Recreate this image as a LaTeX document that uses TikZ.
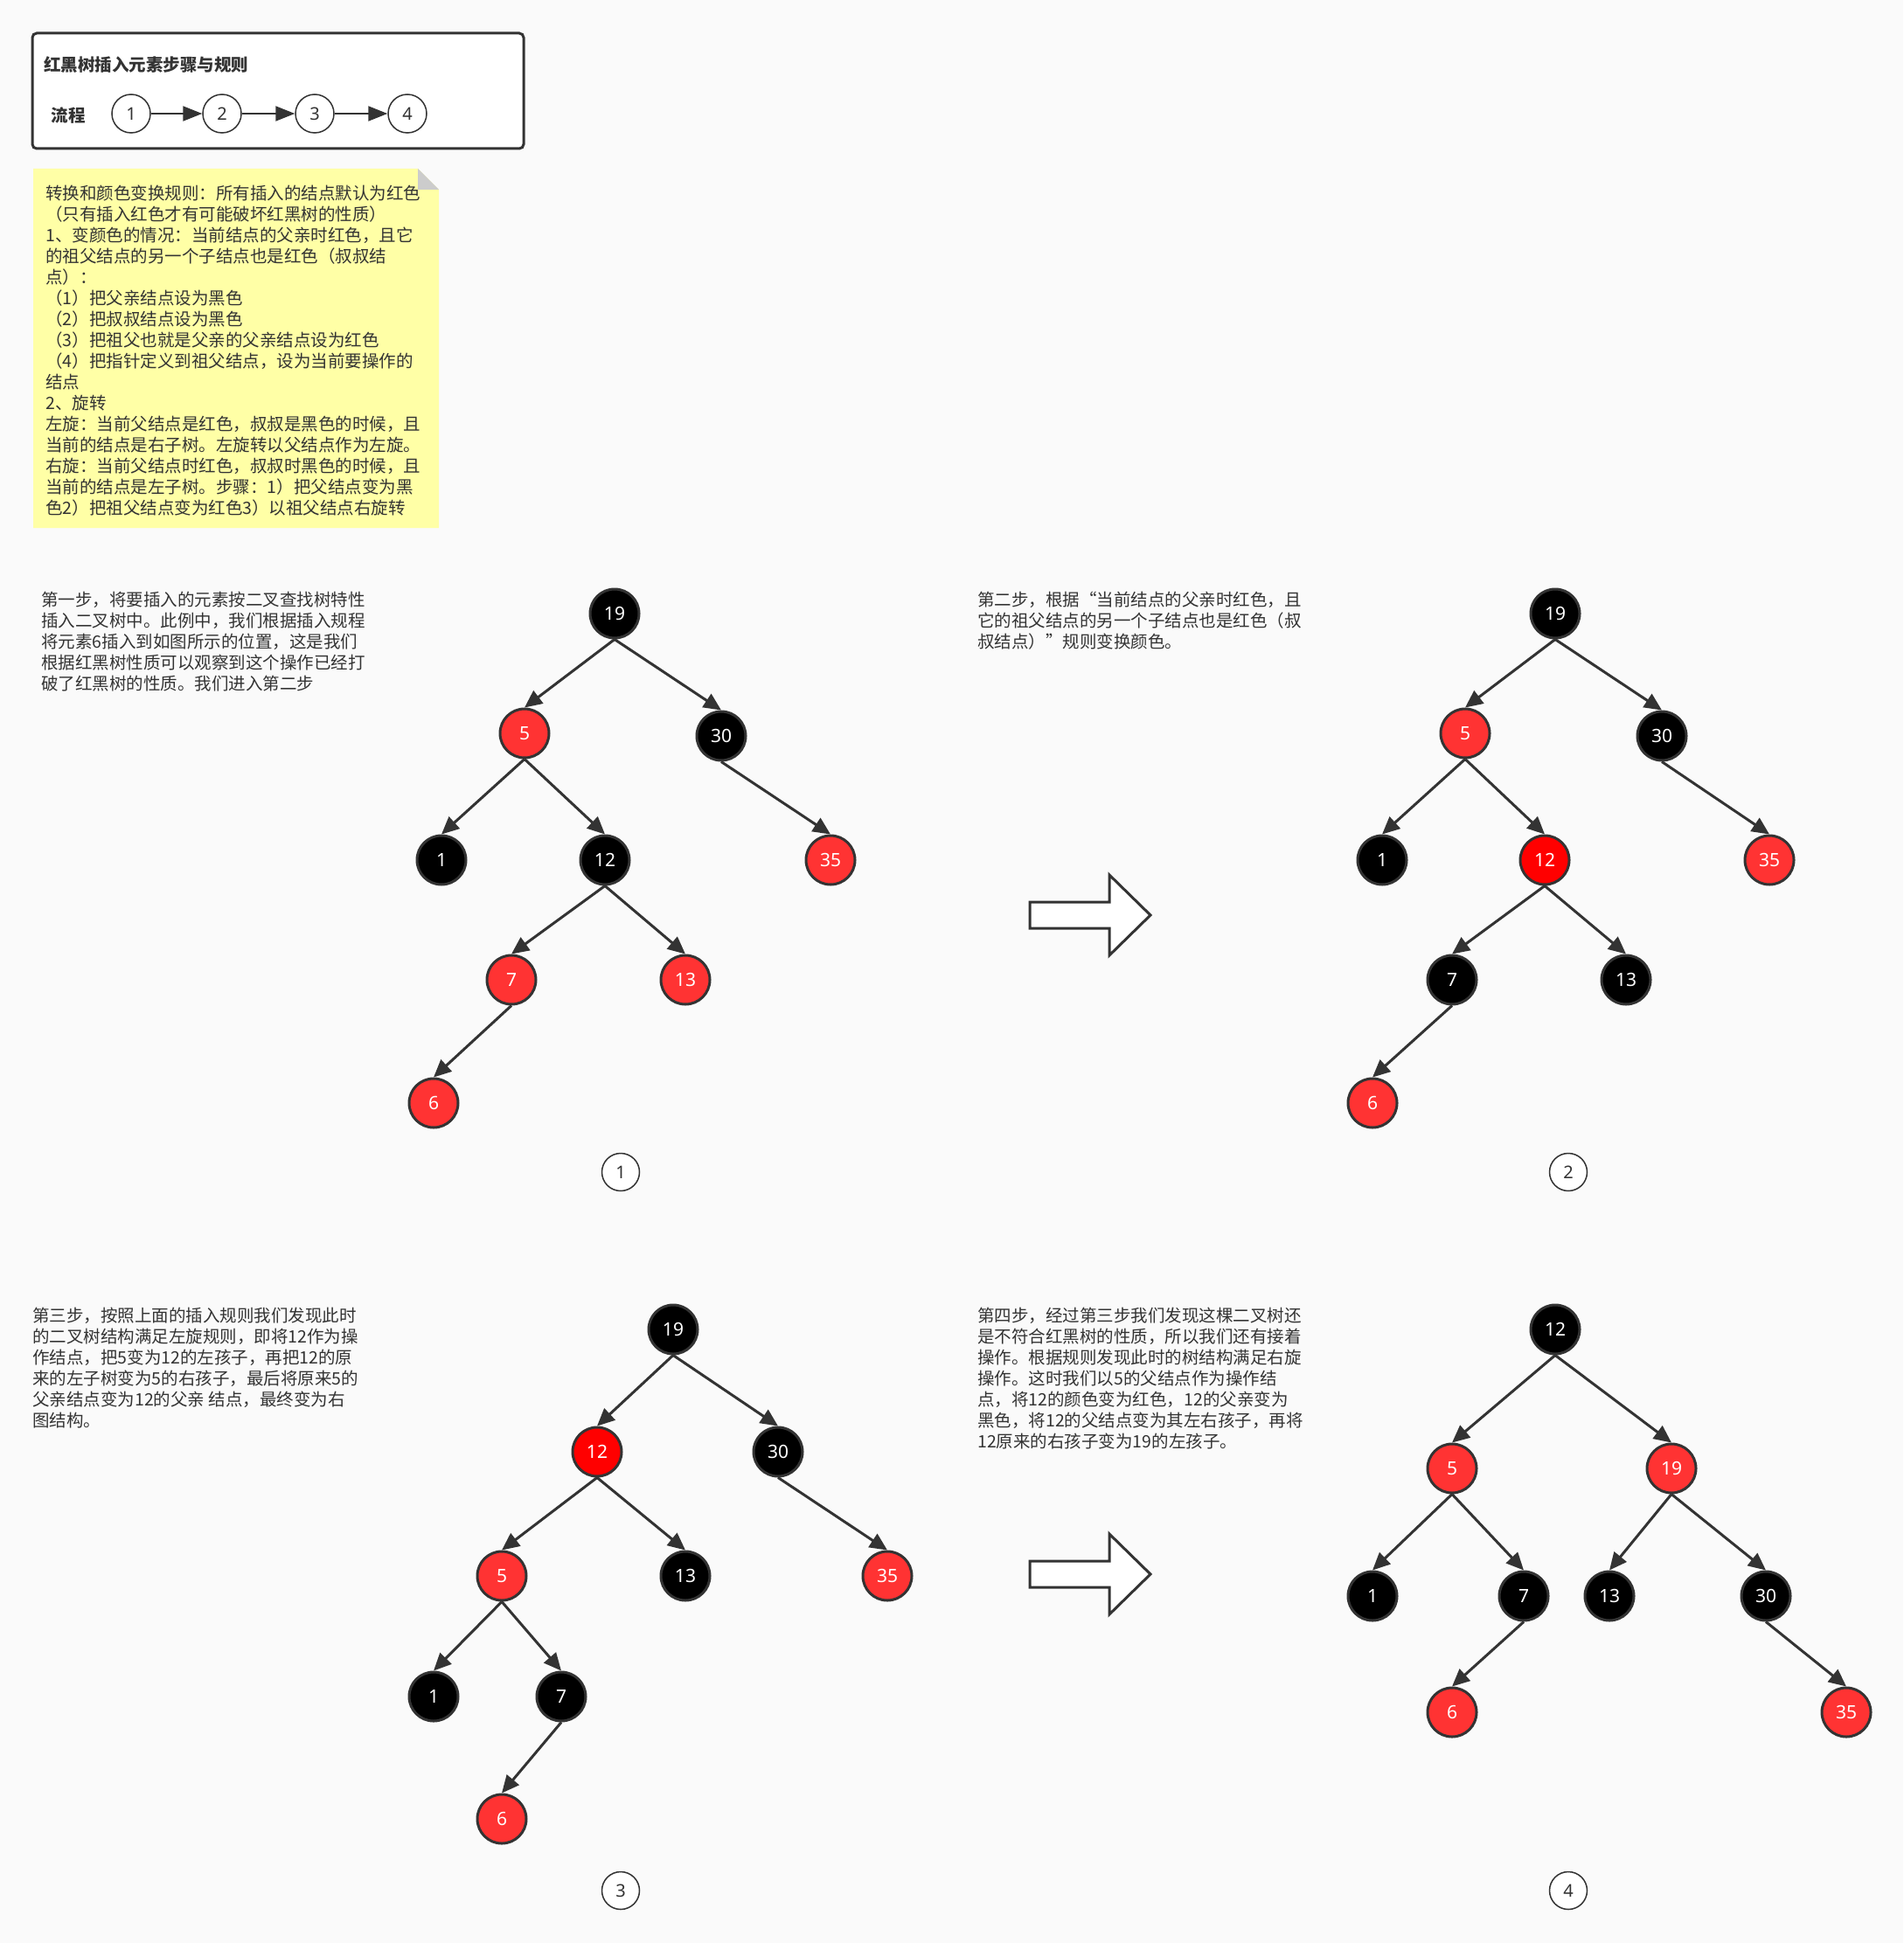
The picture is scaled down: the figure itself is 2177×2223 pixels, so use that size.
\documentclass[tikz,border=0pt]{standalone}
\usepackage{fontspec}
\setmainfont{Noto Sans CJK SC}
\newfontfamily\numfont{Noto Sans}
\usetikzlibrary{arrows.meta}
\definecolor{bg}{RGB}{250,250,250}
\definecolor{ink}{RGB}{51,51,51}
\definecolor{rednode}{RGB}{255,51,51}
\definecolor{hotred}{RGB}{255,0,0}
\definecolor{notefill}{RGB}{255,255,166}
\definecolor{foldgrey}{RGB}{204,204,204}
\begin{document}
\begin{tikzpicture}[x=1pt,y=-1pt,
 rb/.style={circle, minimum size=56pt, inner sep=0pt, line width=3pt, draw=ink, text=white, font=\numfont\fontsize{21}{24}\selectfont},
 bk/.style={rb, fill=black},
 rd/.style={rb, fill=rednode},
 hr/.style={rb, fill=hotred},
 edge/.style={draw=ink, line width=3pt, -{Triangle[length=20pt,width=18pt]}},
 flowedge/.style={draw=ink, line width=2pt, -{Triangle[length=22pt,width=17pt]}},
 stepc/.style={circle, minimum size=43pt, inner sep=0pt, draw=ink, line width=1.5pt, fill=white, text=ink, font=\numfont\fontsize{20}{24}\selectfont},
 flowc/.style={circle, minimum size=44pt, inner sep=0pt, draw=ink, line width=1.5pt, fill=white, text=ink, font=\numfont\fontsize{20}{24}\selectfont},
 para/.style={anchor=north west, inner sep=0pt, align=left, text=ink, font=\fontsize{19.5}{24}\selectfont},
 blockarrow/.style={draw=ink, line width=3pt, fill=white, line join=miter},
]
\useasboundingbox (0,0) rectangle (2177,2223);
\fill[bg] (0,0) rectangle (2177,2223);

% ---- flow box
\draw[rounded corners=5pt, line width=3pt, draw=ink, fill=white] (37,38) rectangle (599,170);
\node[anchor=west, inner sep=0pt, text=ink, font=\bfseries\fontsize{19.5}{24}\selectfont] (title) at (50,74) {红黑树插入元素步骤与规则};
\node[inner sep=0pt, text=ink, font=\bfseries\fontsize{19.5}{24}\selectfont] (flow) at (78,132) {流程};
\node[flowc] (f1) at (150,130) {1};
\node[flowc] (f2) at (254,130) {2};
\node[flowc] (f3) at (360,130) {3};
\node[flowc] (f4) at (466,130) {4};
\draw[flowedge] (f1) -- (f2);
\draw[flowedge] (f2) -- (f3);
\draw[flowedge] (f3) -- (f4);

% ---- note
\fill[notefill] (38,193) -- (478,193) -- (502,217) -- (502,604) -- (38,604) -- cycle;
\fill[foldgrey] (478,193) -- (478,217) -- (502,217) -- cycle;
\node[para] (note) at (52,212) {转换和颜色变换规则：所有插入的结点默认为红色\\
（只有插入红色才有可能破坏红黑树的性质）\\
1、变颜色的情况：当前结点的父亲时红色，且它\\
的祖父结点的另一个子结点也是红色（叔叔结\\
点）：\\
（1）把父亲结点设为黑色\\
（2）把叔叔结点设为黑色\\
（3）把祖父也就是父亲的父亲结点设为红色\\
（4）把指针定义到祖父结点，设为当前要操作的\\
结点\\
2、旋转\\
左旋：当前父结点是红色，叔叔是黑色的时候，且\\
当前的结点是右子树。左旋转以父结点作为左旋。\\
右旋：当前父结点时红色，叔叔时黑色的时候，且\\
当前的结点是左子树。步骤：1）把父结点变为黑\\
色2）把祖父结点变为红色3）以祖父结点右旋转};

% ---- texts
\node[para] (t1) at (47,677) {第一步，将要插入的元素按二叉查找树特性\\
插入二叉树中。此例中，我们根据插入规程\\
将元素6插入到如图所示的位置，这是我们\\
根据红黑树性质可以观察到这个操作已经打\\
破了红黑树的性质。我们进入第二步};
\node[para] (t2) at (1118,677) {第二步，根据“当前结点的父亲时红色，且\\
它的祖父结点的另一个子结点也是红色（叔\\
叔结点）”规则变换颜色。};
\node[para] (t3) at (37,1496) {第三步，按照上面的插入规则我们发现此时\\
的二叉树结构满足左旋规则，即将12作为操\\
作结点，把5变为12的左孩子，再把12的原\\
来的左子树变为5的右孩子，最后将原来5的\\
父亲结点变为12的父亲 结点，最终变为右\\
图结构。};
\node[para] (t4) at (1118,1496) {第四步，经过第三步我们发现这棵二叉树还\\
是不符合红黑树的性质，所以我们还有接着\\
操作。根据规则发现此时的树结构满足右旋\\
操作。这时我们以5的父结点作为操作结\\
点，将12的颜色变为红色，12的父亲变为\\
黑色，将12的父结点变为其左右孩子，再将\\
12原来的右孩子变为19的左孩子。};

% ---- tree 1
\node[bk] (a19) at (703,702) {19};
\node[rd] (a5) at (600,839) {5};
\node[bk] (a30) at (825,842) {30};
\node[bk] (a1) at (505,984) {1};
\node[bk] (a12) at (692,984) {12};
\node[rd] (a35) at (950,984) {35};
\node[rd] (a7) at (585,1121) {7};
\node[rd] (a13) at (784,1121) {13};
\node[rd] (a6) at (496,1262) {6};
\draw[edge] (a19.south) -- (a5.north);
\draw[edge] (a19.south) -- (a30.north);
\draw[edge] (a5.south) -- (a1.north);
\draw[edge] (a5.south) -- (a12.north);
\draw[edge] (a30.south) -- (a35.north);
\draw[edge] (a12.south) -- (a7.north);
\draw[edge] (a12.south) -- (a13.north);
\draw[edge] (a7.south) -- (a6.north);
\node[stepc] (s1) at (710,1341) {1};

% ---- tree 2
\node[bk] (b19) at (1779,702) {19};
\node[rd] (b5) at (1676,839) {5};
\node[bk] (b30) at (1901,842) {30};
\node[bk] (b1) at (1581,984) {1};
\node[hr] (b12) at (1767,984) {12};
\node[rd] (b35) at (2024,984) {35};
\node[bk] (b7) at (1661,1121) {7};
\node[bk] (b13) at (1860,1121) {13};
\node[rd] (b6) at (1570,1262) {6};
\draw[edge] (b19.south) -- (b5.north);
\draw[edge] (b19.south) -- (b30.north);
\draw[edge] (b5.south) -- (b1.north);
\draw[edge] (b5.south) -- (b12.north);
\draw[edge] (b30.south) -- (b35.north);
\draw[edge] (b12.south) -- (b7.north);
\draw[edge] (b12.south) -- (b13.north);
\draw[edge] (b7.south) -- (b6.north);
\node[stepc] (s2) at (1794,1341) {2};

% ---- tree 3
\node[bk] (c19) at (770,1521) {19};
\node[hr] (c12) at (683,1661) {12};
\node[bk] (c30) at (890,1661) {30};
\node[rd] (c5) at (574,1803) {5};
\node[bk] (c13) at (784,1803) {13};
\node[rd] (c35) at (1015,1803) {35};
\node[bk] (c1) at (496,1941) {1};
\node[bk] (c7) at (642,1941) {7};
\node[rd] (c6) at (574,2081) {6};
\draw[edge] (c19.south) -- (c12.north);
\draw[edge] (c19.south) -- (c30.north);
\draw[edge] (c12.south) -- (c5.north);
\draw[edge] (c12.south) -- (c13.north);
\draw[edge] (c30.south) -- (c35.north);
\draw[edge] (c5.south) -- (c1.north);
\draw[edge] (c5.south) -- (c7.north);
\draw[edge] (c7.south) -- (c6.north);
\node[stepc] (s3) at (710,2163) {3};

% ---- tree 4
\node[bk] (d12) at (1779,1521) {12};
\node[rd] (d5) at (1661,1680) {5};
\node[rd] (d19) at (1912,1680) {19};
\node[bk] (d1) at (1570,1826) {1};
\node[bk] (d7) at (1743,1826) {7};
\node[bk] (d13) at (1841,1826) {13};
\node[bk] (d30) at (2020,1826) {30};
\node[rd] (d6) at (1661,1959) {6};
\node[rd] (d35) at (2112,1959) {35};
\draw[edge] (d12.south) -- (d5.north);
\draw[edge] (d12.south) -- (d19.north);
\draw[edge] (d5.south) -- (d1.north);
\draw[edge] (d5.south) -- (d7.north);
\draw[edge] (d19.south) -- (d13.north);
\draw[edge] (d19.south) -- (d30.north);
\draw[edge] (d7.south) -- (d6.north);
\draw[edge] (d30.south) -- (d35.north);
\node[stepc] (s4) at (1794,2163) {4};

% ---- block arrows
\draw[blockarrow] (1178,1032) -- (1269,1032) -- (1269,1001) -- (1316,1047) -- (1269,1093) -- (1269,1062) -- (1178,1062) -- cycle;
\draw[blockarrow] (1178,1786) -- (1269,1786) -- (1269,1755) -- (1316,1801) -- (1269,1847) -- (1269,1816) -- (1178,1816) -- cycle;
\end{tikzpicture}
\end{document}
